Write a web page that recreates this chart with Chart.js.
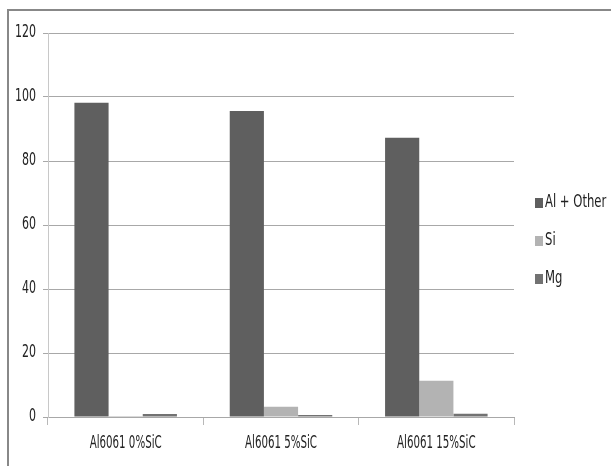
<!DOCTYPE html>
<html>
<head>
<meta charset="utf-8">
<script src="https://cdn.jsdelivr.net/npm/chart.js@4/dist/chart.umd.min.js"></script>
<style>
  body { margin: 0; background: #fff; }
  #wrap { position: relative; width: 611px; height: 466px; }
  #frame { position: absolute; left: 7px; top: 9px; right: 0; bottom: 0; border-left: 2px solid #888; border-top: 2px solid #888; }
  canvas { position: absolute; left: 0; top: 0; }
</style>
</head>
<body>
<div id="wrap">
  <div id="frame"></div>
  <canvas id="chart" width="611" height="466"></canvas>
</div>
<script>
const categories = ["Al6061 0%SiC", "Al6061 5%SiC", "Al6061 15%SiC"];
const seriesNames = ["Al + Other", "Si", "Mg"];
const alOther = [98.2, 95.6, 87.3];
const si = [0.3, 3.2, 11.3];
const mg = [0.9, 0.6, 1.0];
const colors = ["#5f5f5f", "#b3b3b3", "#727272"];

const FONT = "17px 'DejaVu Sans Condensed', sans-serif";
const TEXT = "#222";

// tall narrow text, like the squeezed Calibri of the original
function narrowText(c, text, x, y, align, sx) {
    c.save();
    c.translate(x, y);
    c.scale(sx, 1);
    c.font = FONT;
    c.fillStyle = TEXT;
    c.textAlign = align;
    c.textBaseline = "middle";
    c.fillText(text, 0, 0);
    c.restore();
}

// tick labels + legend drawn from the scales / datasets
const labelsAndLegend = {
    id: "labelsAndLegend",
    afterDraw(chart) {
        const c = chart.ctx;
        const xs = chart.scales.x, ys = chart.scales.y;
        ys.ticks.forEach((t, i) => {
            narrowText(c, String(t.value), 36, ys.getPixelForTick(i), "right", 0.72);
        });
        xs.ticks.forEach((t, i) => {
            narrowText(c, chart.data.labels[i], xs.getPixelForTick(i), 444, "center", 0.67);
        });
        chart.data.datasets.forEach((ds, i) => {
            const y = 203 + i * 38;
            c.fillStyle = ds.backgroundColor;
            c.fillRect(535, y - 5, 8, 10);
            narrowText(c, ds.label, 545, y, "left", 0.76);
        });
    }
};

const ctx = document.getElementById("chart").getContext("2d");
new Chart(ctx, {
    type: "bar",
    data: {
        labels: categories,
        datasets: [
            { label: seriesNames[0], data: alOther, backgroundColor: colors[0] },
            { label: seriesNames[1], data: si, backgroundColor: colors[1] },
            { label: seriesNames[2], data: mg, backgroundColor: colors[2] }
        ]
    },
    options: {
        responsive: false,
        animation: false,
        categoryPercentage: 0.66,
        barPercentage: 1,
        layout: { padding: { left: 0, top: 33, right: 97, bottom: 0 } },
        plugins: { legend: { display: false }, tooltip: { enabled: false } },
        scales: {
            x: {
                afterFit(s) { s.height = 49; },
                grid: { offset: true, drawOnChartArea: false, drawTicks: true, tickLength: 8, color: "#b8b8b8" },
                border: { color: "#a8a8a8" },
                ticks: { display: false }
            },
            y: {
                min: 0, max: 120,
                afterFit(s) { s.width = 48; },
                grid: { color: "#a8a8a8", tickLength: 5 },
                border: { color: "#c8c8c8" },
                ticks: { stepSize: 20, display: false }
            }
        }
    },
    plugins: [labelsAndLegend]
});
</script>
</body>
</html>
